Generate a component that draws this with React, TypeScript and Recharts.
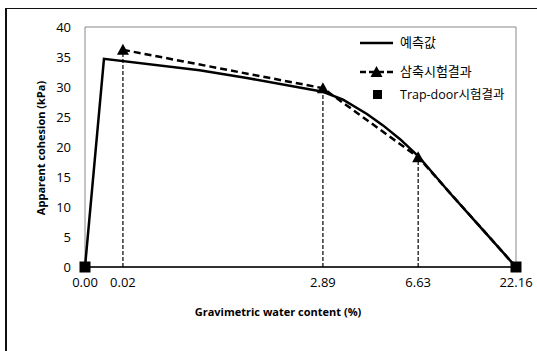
import React from 'react';
import {
  ComposedChart,
  Line,
  Scatter,
  XAxis,
  YAxis,
  ReferenceLine,
  ReferenceArea,
} from 'recharts';

// Axis tick values (water content, %) and their relative place on the (non-linear) axis
const tickValues = [0, 0.02, 2.89, 6.63, 22.16];
const tickLabels = ['0.00', '0.02', '2.89', '6.63', '22.16'];
const tickAxisPos = [0, 0.088, 0.552, 0.773, 1];
const yTicks = [0, 5, 10, 15, 20, 25, 30, 35, 40];

// 예측값 (predicted)
const predWater = [0, 0.01, 1.12, 1.8, 2.89, 3.68, 4.62, 5.25, 5.92, 6.63, 11.7, 16.9, 22.16];
const predCohesion = [0, 34.7, 32.8, 31.5, 29.2, 27.9, 25.5, 23.6, 21.3, 18.5, 12.3, 6.2, 0];

// 삼축시험결과 (triaxial test)
const triWater = [0.02, 2.89, 6.63, 22.16];
const triCohesion = [36.2, 29.8, 18.3, 0];
const triMarker = [true, true, true, false];

// Trap-door시험결과
const trapWater = [0, 22.16];
const trapCohesion = [0, 0];

// piecewise-linear mapping of water content onto the chart's axis
function toAxis(w: number): number {
  for (let i = 0; i < tickValues.length - 1; i++) {
    const a = tickValues[i];
    const b = tickValues[i + 1];
    if (w <= b) {
      const t = (w - a) / (b - a);
      return tickAxisPos[i] + t * (tickAxisPos[i + 1] - tickAxisPos[i]);
    }
  }
  return 1;
}

const predData = predWater.map((w, i) => ({ x: toAxis(w), y: predCohesion[i] }));
const triData = triWater.map((w, i) => ({ x: toAxis(w), y: triCohesion[i], m: triMarker[i] }));
const trapData = trapWater.map((w, i) => ({ x: toAxis(w), y: trapCohesion[i] }));

const FONT = '"Open Sans", "Noto Sans CJK KR", sans-serif';

const Triangle = (props: any) => {
  const { cx, cy, payload, index } = props;
  if (!payload || !payload.m || cx == null) return <g key={`t${index}`} />;
  return (
    <path
      key={`t${index}`}
      d={`M${cx},${cy - 6} L${cx + 6},${cy + 5} L${cx - 6},${cy + 5} Z`}
      fill="#000"
    />
  );
};

const Square = (props: any) => {
  const { cx, cy } = props;
  return <rect x={cx - 5.5} y={cy - 5.5} width={11} height={11} fill="#000" />;
};

const tickFmt = (v: number) => {
  const i = tickAxisPos.findIndex((p) => Math.abs(p - v) < 1e-6);
  return i >= 0 ? tickLabels[i] : '';
};

export default function App() {
  return (
    <div style={{ position: 'absolute', left: 0, top: 0, width: 537, height: 351, background: '#fff', overflow: 'hidden', fontFamily: FONT }}>
      <div
        style={{
          position: 'absolute',
          left: 5,
          top: 8,
          width: 560,
          height: 400,
          borderLeft: '2px solid #111',
          borderTop: '1.5px solid #111',
        }}
      />
      <ComposedChart
        width={537}
        height={351}
        margin={{ top: 27, right: 21, left: 0, bottom: 54 }}
        style={{ position: 'absolute', left: 0, top: 0 }}
      >
        <XAxis
          type="number"
          dataKey="x"
          domain={[0, 1]}
          ticks={tickAxisPos}
          tickFormatter={tickFmt}
          height={30}
          tickLine={false}
          tickSize={0}
          tickMargin={11}
          axisLine={{ stroke: '#000', strokeWidth: 1.5 }}
          tick={{ fill: '#000', fontSize: 13, fontFamily: FONT }}
        />
        <YAxis
          type="number"
          domain={[0, 40]}
          ticks={yTicks}
          width={85}
          tickLine={false}
          tickSize={0}
          tickMargin={14}
          axisLine={false}
          tick={{ fill: '#000', fontSize: 13, fontFamily: FONT }}
        />
        <ReferenceArea x1={0} x2={1} y1={0} y2={40} fill="none" stroke="#888" strokeWidth={1} />
        {triData
          .filter((d) => d.m)
          .map((d, i) => (
            <ReferenceLine
              key={`rl${i}`}
              segment={[
                { x: d.x, y: 0 },
                { x: d.x, y: d.y },
              ]}
              stroke="#000"
              strokeWidth={1.2}
              strokeDasharray="4 2"
            />
          ))}
        <Line
          data={predData}
          dataKey="y"
          type="linear"
          stroke="#000"
          strokeWidth={2.5}
          dot={false}
          isAnimationActive={false}
        />
        <Line
          data={triData}
          dataKey="y"
          type="linear"
          stroke="#000"
          strokeWidth={2.5}
          strokeDasharray="7 4"
          dot={Triangle}
          isAnimationActive={false}
        />
        <Scatter data={trapData} dataKey="y" shape={Square} isAnimationActive={false} />
      </ComposedChart>

      {/* Axis titles */}
      <div
        style={{
          position: 'absolute',
          left: 278,
          top: 304,
          transform: 'translateX(-50%)',
          fontSize: 11,
          fontWeight: 700,
          whiteSpace: 'nowrap',
          color: '#000',
        }}
      >
        Gravimetric water content (%)
      </div>
      <div
        style={{
          position: 'absolute',
          left: 40,
          top: 148,
          transform: 'translate(-50%, -50%) rotate(-90deg)',
          fontSize: 11,
          fontWeight: 700,
          whiteSpace: 'nowrap',
          color: '#000',
        }}
      >
        Apparent cohesion (kPa)
      </div>

      {/* Legend */}
      <svg style={{ position: 'absolute', left: 355, top: 30 }} width={45} height={80}>
        <line x1={5} y1={13} x2={38} y2={13} stroke="#000" strokeWidth={2.5} />
        <line x1={5} y1={42} x2={38} y2={42} stroke="#000" strokeWidth={2.5} strokeDasharray="6 3" />
        <path d="M21.5,36 L27.5,47 L15.5,47 Z" fill="#000" />
        <rect x={18} y={60} width={9} height={9} fill="#000" />
      </svg>
      <div style={{ position: 'absolute', left: 400, top: 33, fontSize: 13, lineHeight: '18px', color: '#000', whiteSpace: 'nowrap' }}>
        예측값
      </div>
      <div style={{ position: 'absolute', left: 400, top: 62, fontSize: 13, lineHeight: '18px', color: '#000', whiteSpace: 'nowrap' }}>
        삼축시험결과
      </div>
      <div style={{ position: 'absolute', left: 400, top: 86, fontSize: 12.5, lineHeight: '18px', color: '#000', whiteSpace: 'nowrap' }}>
        Trap-door시험결과
      </div>
    </div>
  );
}
